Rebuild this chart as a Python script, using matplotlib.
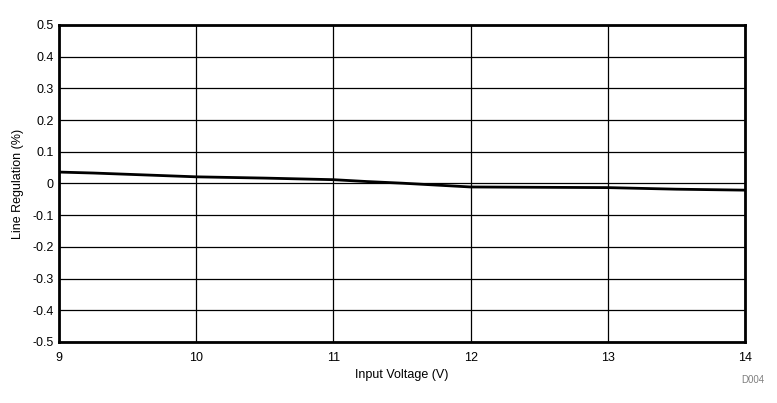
import matplotlib.pyplot as plt

plt.rcParams['font.family'] = ['Liberation Sans', 'DejaVu Sans']

input_voltage = [9.0, 9.25, 9.5, 9.75, 10.0, 10.5, 11.0, 11.25, 11.5, 11.75, 12.0, 12.5, 13.0, 13.5, 14.0]
line_reg = [0.036, 0.033, 0.029, 0.025, 0.021, 0.017, 0.012, 0.006, 0.001, -0.005, -0.011, -0.012, -0.013, -0.018, -0.021]

x_ticks = [9, 10, 11, 12, 13, 14]
y_ticks = [-0.5, -0.4, -0.3, -0.2, -0.1, 0, 0.1, 0.2, 0.3, 0.4, 0.5]
y_labels = ['-0.5', '-0.4', '-0.3', '-0.2', '-0.1', '0', '0.1', '0.2', '0.3', '0.4', '0.5']

fig = plt.figure(figsize=(7.77, 4.03), dpi=100)
ax = fig.add_axes([0.0759, 0.1514, 0.8829, 0.7866])

ax.plot(input_voltage, line_reg, color='black', linewidth=2)

ax.set_xlim(9, 14)
ax.set_ylim(-0.5, 0.5)
ax.set_xticks(x_ticks)
ax.set_yticks(y_ticks)
ax.set_yticklabels(y_labels)
ax.grid(True, color='black', linewidth=0.9)
ax.tick_params(axis='x', length=0, labelsize=9, pad=7)
ax.tick_params(axis='y', length=0, labelsize=9, pad=4)
for s in ax.spines.values():
    s.set_linewidth(2)

ax.set_xlabel('Input Voltage (V)', fontsize=9, labelpad=4)
ax.set_ylabel('Line Regulation (%)', fontsize=9, labelpad=6)

fig.text(0.984, 0.05, 'D004', fontsize=7, color='#808080', ha='right')

fig.savefig('out.png', dpi=100)
